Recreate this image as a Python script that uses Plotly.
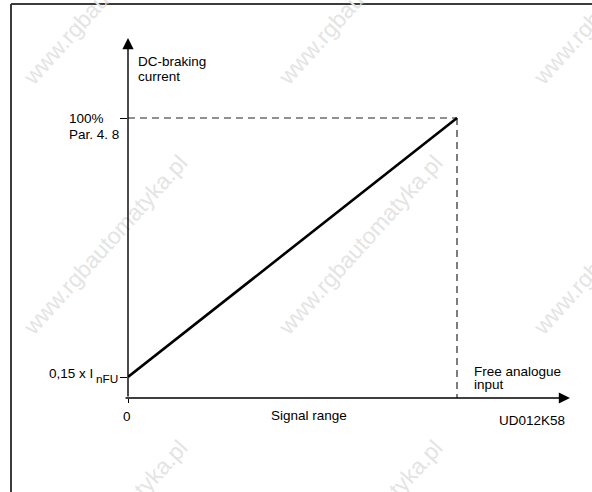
import plotly.graph_objects as go

# characteristic: DC-braking current vs. free analogue input signal
signal_range = [0, 100]        # % of signal range
braking_current = [15, 100]    # % of Par. 4.8 (start = 0,15 x I_nFU)
y_tick_vals = [15, 100]
x_tick_vals = [0]

y_label = ["DC-braking", "current"]
max_label = ["100%", "Par. 4. 8"]
min_label = ["0,15 x I", "nFU"]
x_label = "Signal range"
input_label = ["Free analogue", "input"]
code_label = "UD012K58"
watermark = "www.rgbautomatyka.pl"

W, H = 592, 492
PL, PR, PT, PB = 128, 570, 38, 398   # plot area in pixels
FONT = "Arial, Liberation Sans, sans-serif"
FS = 13.5

# axis ranges so that 100% lands where the reference puts it
x_max = 100 * (PR - PL) / (457 - PL)
unit = (377 - 118) / (braking_current[1] - braking_current[0])
y_min = braking_current[0] - (PB - 377) / unit
y_max = braking_current[1] + (118 - PT) / unit


def pxx(px):
    return (px - PL) / (PR - PL)


def pxy(py):
    return (PB - py) / (PB - PT)


fig = go.Figure()

# dashed guides to the 100% point
fig.add_trace(go.Scatter(
    x=[signal_range[0], signal_range[1]], y=[braking_current[1]] * 2,
    mode="lines", line=dict(color="#222222", width=1.2, dash="7px,5px"),
    hoverinfo="skip", cliponaxis=False))
fig.add_trace(go.Scatter(
    x=[signal_range[1]] * 2, y=[braking_current[1], y_min],
    mode="lines", line=dict(color="#707070", width=1.8, dash="7px,5px"),
    hoverinfo="skip", cliponaxis=False))

# the characteristic itself
fig.add_trace(go.Scatter(
    x=signal_range, y=braking_current, mode="lines",
    line=dict(color="black", width=2.6), hoverinfo="skip", cliponaxis=False))

annotations = []

# faint watermark grid
for cx in [105, 360, 615]:
    for cy in [-5, 245, 530]:
        annotations.append(dict(
            x=pxx(cx), y=pxy(cy), xref="paper", yref="paper", text=watermark,
            showarrow=False, textangle=-48, xanchor="center", yanchor="middle",
            font=dict(family=FONT, size=23, color="#e4e4e4")))

# axes with arrow heads
annotations.append(dict(
    x=0, y=y_max, ax=0, ay=y_min, xref="x", yref="y", axref="x", ayref="y",
    text="", showarrow=True, arrowhead=2, arrowsize=1.6, arrowwidth=1.4,
    arrowcolor="black", standoff=0))
annotations.append(dict(
    x=x_max, y=y_min, ax=-1.2, ay=y_min, xref="x", yref="y", axref="x", ayref="y",
    text="", showarrow=True, arrowhead=2, arrowsize=1.6, arrowwidth=1.4,
    arrowcolor="black", standoff=0))


def label(text, px, py, xanchor="left", size=FS):
    annotations.append(dict(
        x=pxx(px), y=pxy(py), xref="paper", yref="paper", text=text,
        showarrow=False, xanchor=xanchor, yanchor="middle", align=xanchor,
        font=dict(family=FONT, size=size, color="black")))


label(y_label[0], 136, 62)
label(y_label[1], 136, 76.5)
label(max_label[0], 67, 118.5)
label(max_label[1], 67, 134)
label(min_label[0], 94.5, 373.5, "right")
label(min_label[1], 120, 378.5, "right", size=11.8)
label("0", 126.5, 416, "center")
label(x_label, 308.5, 415, "center")
label(input_label[0], 471.5, 371.5)
label(input_label[1], 471.5, 384)
label(code_label, 567, 420, "right")

# outer frame (only top and left edges are visible in the crop)
frame = dict(color="#3c3c3c", width=2)
shapes = [
    dict(type="line", xref="paper", yref="paper", x0=pxx(11), y0=pxy(495),
         x1=pxx(11), y1=pxy(4), line=frame),
    dict(type="line", xref="paper", yref="paper", x0=pxx(11), y0=pxy(4),
         x1=pxx(600), y1=pxy(4), line=frame),
]

fig.update_layout(
    width=W, height=H,
    margin=dict(l=PL, r=W - PR, t=PT, b=H - PB),
    paper_bgcolor="white", plot_bgcolor="white",
    showlegend=False,
    annotations=annotations, shapes=shapes,
    xaxis=dict(range=[0, x_max], showgrid=False, zeroline=False, showline=False,
               tickvals=x_tick_vals, ticks="outside", ticklen=4, tickwidth=1.2,
               tickcolor="black", showticklabels=False, fixedrange=True),
    yaxis=dict(range=[y_min, y_max], showgrid=False, zeroline=False, showline=False,
               tickvals=y_tick_vals, ticks="outside", ticklen=7, tickwidth=1.2,
               tickcolor="black", showticklabels=False, fixedrange=True),
)

# drop the default page margin so the figure sits at the window's corner
fig.write_html("out.html", config={"displayModeBar": False},
               post_script="document.body.style.margin='0';"
                           "document.body.style.overflow='hidden';")
